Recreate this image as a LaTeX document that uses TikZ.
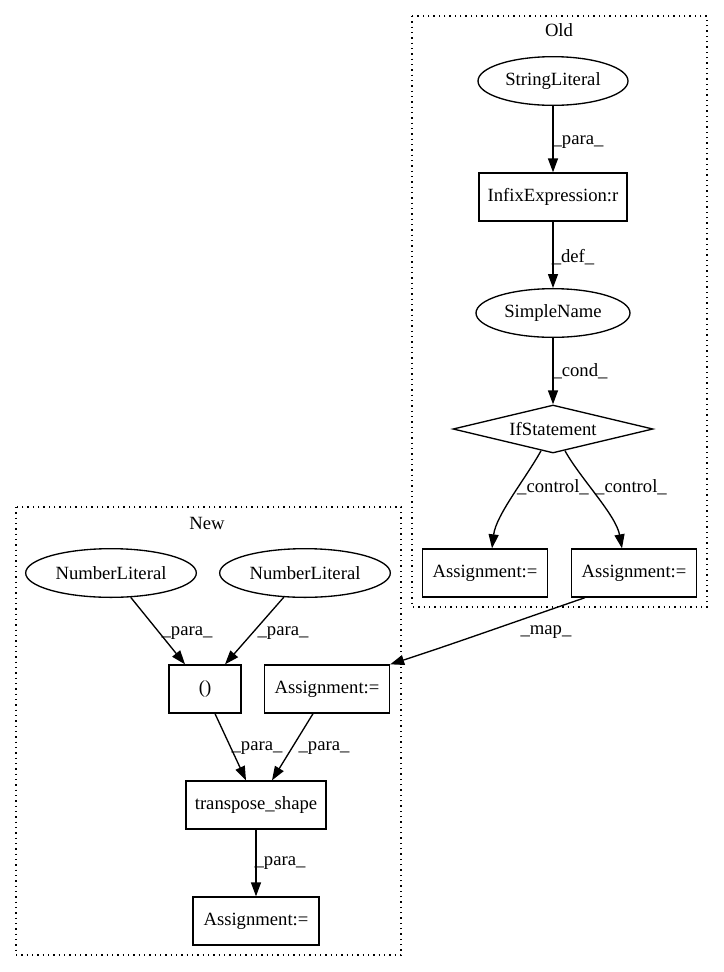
\documentclass[tikz,border=0pt]{standalone}
\usepackage{fontspec}
\setmainfont{Liberation Serif}
\usetikzlibrary{arrows.meta,shapes.geometric}
\begin{document}
\begin{tikzpicture}[x=0.75pt,y=-0.75pt,
  every node/.style={font=\fontsize{14}{16}\selectfont, inner sep=0pt},
  boxnode/.style={draw, line width=1pt, rectangle, minimum height=36pt},
  ellnode/.style={draw, line width=1pt, ellipse, minimum height=36.5pt},
  dianode/.style={draw, line width=1pt, diamond, aspect=4.17, minimum width=150pt, minimum height=36pt},
  edge/.style={line width=1pt, -{Triangle[length=10.5pt,width=7.5pt]}},
  elabel/.style={font=\fontsize{14}{16}\selectfont},
  cluster/.style={line width=1pt, dash pattern=on 1pt off 3pt}]
\useasboundingbox (0,0) rectangle (724,972);
% clusters
\draw[cluster] (412,16) rectangle (707,607);
\node (oldlbl) at (559,30) {Old};
\draw[cluster] (16,507) rectangle (401,955);
\node (newlbl) at (207,523) {New};
% Old nodes
\node[ellnode, minimum width=112.5pt] (str) at (553,81) {StringLiteral};
\node[boxnode, minimum width=111pt] (infix) at (553,197) {InfixExpression:r};
\node[ellnode, minimum width=115.5pt] (sname) at (553,313) {SimpleName};
\node[dianode] (ifst) at (553,429) {IfStatement};
\node[boxnode, minimum width=93.75pt] (asgA) at (485,573) {Assignment:=};
\node[boxnode, minimum width=93.75pt] (asgB) at (634,573) {Assignment:=};
% New nodes
\node[ellnode, minimum width=128pt] (numA) at (111,573) {NumberLiteral};
\node[ellnode, minimum width=128pt] (numB) at (305,573) {NumberLiteral};
\node[boxnode, minimum width=54pt] (paren) at (205,689) {()};
\node[boxnode, minimum width=93.75pt] (asgN) at (327,689) {Assignment:=};
\node[boxnode, minimum width=105pt] (tshape) at (256,805) {transpose\_shape};
\node[boxnode, minimum width=94.5pt] (asgC) at (256,921) {Assignment:=};
% edges Old
\draw[edge] (str) -- (infix);
\node[elabel] (l1) at (578,142) {\_para\_};
\draw[edge] (infix) -- (sname);
\node[elabel] (l2) at (573,257) {\_def\_};
\draw[edge] (sname) -- (ifst);
\node[elabel] (l3) at (580,371) {\_cond\_};
\draw[edge] (ifst) .. controls (526,478) and (496,515) .. ([xshift=5.25pt]asgA.north);
\node[elabel] (l4) at (553,487) {\_control\_};
\draw[edge] (ifst) .. controls (580,478) and (616,515) .. ([xshift=-9pt]asgB.north);
\node[elabel] (l5) at (631,487) {\_control\_};
% map edge
\draw[edge] ([xshift=-36.75pt]asgB.south) .. controls (520,620) and (450,645) .. (asgN.north east);
\node[elabel] (l6) at (546,632) {\_map\_};
% edges New
\draw[edge] (numA) -- ([xshift=-15pt]paren.north);
\node[elabel] (l7) at (187,633) {\_para\_};
\draw[edge] (numB) -- ([xshift=15pt]paren.north);
\node[elabel] (l8) at (283,633) {\_para\_};
\draw[edge] ([xshift=7.5pt]paren.south) -- ([xshift=-7.5pt]tshape.north);
\node[elabel] (l9) at (257,748) {\_para\_};
\draw[edge] ([xshift=-10.5pt]asgN.south) -- ([xshift=12pt]tshape.north);
\node[elabel] (l10) at (324,748) {\_para\_};
\draw[edge] (tshape) -- (asgC);
\node[elabel] (l11) at (280,863) {\_para\_};
\end{tikzpicture}
\end{document}
